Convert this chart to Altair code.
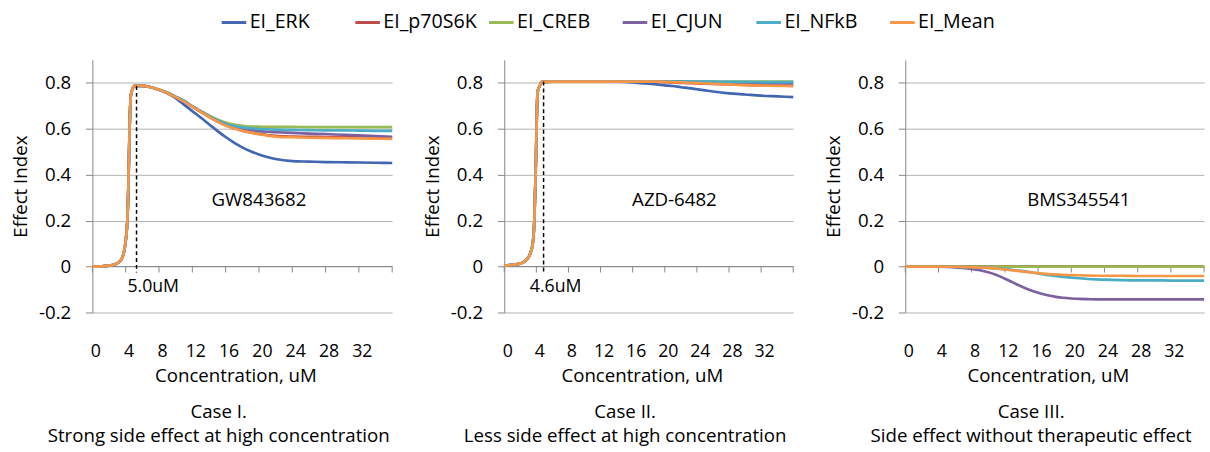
import altair as alt
import pandas as pd

FONT = "Open Sans"
SERIES = ["EI_ERK", "EI_p70S6K", "EI_CREB", "EI_CJUN", "EI_NFkB", "EI_Mean"]
COLORS = ["#4267B2", "#BE4B48", "#98B954", "#7D60A0", "#4BACC6", "#F79646"]
X_LABELS = [0, 4, 8, 12, 16, 20, 24, 28, 32]
X_TICK_MARKS = [0, 4, 8, 12, 16, 20, 24, 28, 32, 36]
Y_TICKS = [-0.2, 0, 0.2, 0.4, 0.6, 0.8]

# ---------------- Case I : GW843682 ----------------
P1_X = [0, 1, 2, 2.8, 3.4, 3.8, 4.2, 4.6, 4.8, 5.1,
        6, 7, 8, 9, 10, 11, 12, 13, 14, 15, 16, 17, 18, 19, 20, 21, 22,
        24, 26, 28, 30, 32, 34, 36]
P1_RISE = [0, 0.001, 0.004, 0.011, 0.026, 0.065, 0.20, 0.74, 0.772, 0.787,
           0.787, 0.781, 0.770]
P1_MEAN = P1_RISE + [0.756, 0.738, 0.718, 0.696, 0.674, 0.652, 0.631, 0.614, 0.601,
                     0.591, 0.583, 0.576, 0.570, 0.566,
                     0.563, 0.561, 0.560, 0.559, 0.558, 0.557, 0.556]
P1_ERK = P1_RISE + [0.754, 0.733, 0.705, 0.677, 0.649, 0.620, 0.591, 0.564, 0.540,
                    0.519, 0.502, 0.488, 0.477, 0.468,
                    0.459, 0.457, 0.455, 0.454, 0.453, 0.452, 0.451]
P1_EARLY = P1_RISE + [0.757, 0.739, 0.721]
P1_CREB = P1_EARLY + [0.698, 0.678, 0.658, 0.640, 0.627, 0.618, 0.613, 0.610, 0.609,
                      0.608, 0.608, 0.608, 0.607, 0.607, 0.607, 0.607, 0.607, 0.607]
P1_NFKB = P1_EARLY + [0.697, 0.676, 0.655, 0.636, 0.622, 0.612, 0.606, 0.602, 0.599,
                      0.597, 0.596, 0.595, 0.594, 0.593, 0.593, 0.592, 0.591, 0.591]
P1_CJUN = P1_EARLY + [0.697, 0.676, 0.655, 0.636, 0.620, 0.609, 0.601, 0.595, 0.590,
                      0.587, 0.585, 0.582, 0.579, 0.577, 0.574, 0.571, 0.568, 0.565]
P1_P70 = P1_EARLY + [0.696, 0.674, 0.652, 0.632, 0.615, 0.602, 0.592, 0.584, 0.578,
                     0.573, 0.569, 0.566, 0.565, 0.564, 0.563, 0.563, 0.562, 0.562]

# ---------------- Case II : AZD-6482 ----------------
P2_X = [0, 0.7, 1.5, 2.1, 2.7, 3.2, 3.55, 3.75, 3.95, 4.15, 4.4, 4.7,
        6, 8, 10, 12, 14, 15, 16, 17, 18, 19, 20, 21, 22, 23, 24, 25, 26,
        28, 30, 32, 34, 36]
P2_RISE = [0.003, 0.007, 0.010, 0.014, 0.027, 0.053, 0.10, 0.20, 0.47, 0.76, 0.785, 0.804]
P2_MEAN = P2_RISE + [0.805, 0.805, 0.805, 0.805, 0.805, 0.805, 0.805, 0.805, 0.805, 0.805,
                     0.804, 0.803, 0.802, 0.800, 0.799, 0.797, 0.796,
                     0.793, 0.790, 0.788, 0.787, 0.786]
P2_ERK = P2_RISE + [0.805, 0.805, 0.805, 0.805, 0.805, 0.804, 0.802, 0.799, 0.796, 0.793,
                    0.789, 0.786, 0.781, 0.777, 0.772, 0.767, 0.762,
                    0.754, 0.749, 0.744, 0.741, 0.738]
P2_P70 = P2_RISE + [0.805, 0.805, 0.805, 0.805, 0.805, 0.805, 0.805, 0.805, 0.805, 0.805,
                    0.803, 0.802, 0.800, 0.799, 0.797, 0.796, 0.795,
                    0.793, 0.791, 0.789, 0.788, 0.787]
P2_CREB = P2_RISE + [0.805, 0.805, 0.805, 0.805, 0.805, 0.805, 0.805, 0.805, 0.805, 0.805,
                     0.805, 0.805, 0.805, 0.805, 0.805, 0.805, 0.805,
                     0.806, 0.806, 0.806, 0.806, 0.806]
P2_CJUN = P2_RISE + [0.805, 0.805, 0.805, 0.805, 0.805, 0.805, 0.805, 0.805, 0.805, 0.805,
                     0.805, 0.805, 0.805, 0.804, 0.803, 0.803, 0.802,
                     0.800, 0.799, 0.798, 0.797, 0.796]
P2_NFKB = P2_RISE + [0.805, 0.805, 0.805, 0.805, 0.805, 0.805, 0.805, 0.805, 0.805, 0.805,
                     0.805, 0.805, 0.805, 0.805, 0.805, 0.805, 0.805,
                     0.804, 0.804, 0.803, 0.803, 0.803]

# ---------------- Case III : BMS345541 ----------------
P3_X = [0, 2, 4, 6, 8, 9, 10, 11, 12, 13, 14, 15, 16, 17, 18, 19, 20, 21, 22, 23, 24,
        26, 28, 30, 32, 34, 36]
P3_ZERO = [0] * 27
P3_CJUN = [0, 0, -0.001, -0.004, -0.010, -0.016, -0.025, -0.037, -0.053, -0.070, -0.087,
           -0.102, -0.114, -0.124, -0.131, -0.136, -0.139, -0.141, -0.142, -0.143, -0.143,
           -0.143, -0.143, -0.143, -0.143, -0.143, -0.143]
P3_NFKB = [0, 0, 0, -0.001, -0.003, -0.004, -0.006, -0.008, -0.011, -0.015, -0.019,
           -0.024, -0.030, -0.036, -0.041, -0.045, -0.048, -0.051, -0.054, -0.056, -0.057,
           -0.059, -0.060, -0.060, -0.061, -0.061, -0.061]
P3_MEAN = [0, 0, 0, -0.001, -0.003, -0.004, -0.006, -0.009, -0.013, -0.017, -0.021,
           -0.025, -0.029, -0.032, -0.034, -0.036, -0.037, -0.038, -0.039, -0.040, -0.040,
           -0.040, -0.041, -0.041, -0.041, -0.041, -0.041]

PANELS = [
    dict(x=P1_X, ys=[P1_ERK, P1_P70, P1_CREB, P1_CJUN, P1_NFKB, P1_MEAN],
         name="GW843682", name_x=20.0, width=305,
         dash_x=5.3, dash_top=0.786, um="5.0uM", um_x=7.3,
         title=["Case I.", "Strong side effect at high concentration"]),
    dict(x=P2_X, ys=[P2_ERK, P2_P70, P2_CREB, P2_CJUN, P2_NFKB, P2_MEAN],
         name="AZD-6482", name_x=21.2, width=294,
         dash_x=4.9, dash_top=0.805, um="4.6uM", um_x=6.4,
         title=["Case II.", "Less side effect at high concentration"]),
    dict(x=P3_X, ys=[P3_ZERO, P3_ZERO, P3_ZERO, P3_CJUN, P3_NFKB, P3_MEAN],
         name="BMS345541", name_x=20.9, width=304,
         dash_x=None, dash_top=None, um=None, um_x=None,
         title=["Case III.", "Side effect without therapeutic effect"]),
]

HEIGHT = 257
GRID = "#B3B3B3"
AXIS = "#868686"

color_scale = alt.Scale(domain=SERIES, range=COLORS)
legend = alt.Legend(
    title=None, orient="none", legendX=130, legendY=-52, direction="horizontal",
    columns=6, symbolType="stroke", symbolSize=625, symbolStrokeWidth=3,
    labelFont=FONT, labelFontSize=20, labelColor="#000000", labelOffset=2,
    columnPadding=5, gridAlign="all",
)

ylabel_expr = ("datum.value < 0 ? '-' + format(-datum.value, '.1f') : "
               "(datum.value == 0 ? '0' : format(datum.value, '.1f'))")


def make_panel(p, show_legend):
    w = p["width"]
    xs = alt.Scale(domain=[0, 36], nice=False, zero=False)
    ys = alt.Scale(domain=[-0.2, 0.9], nice=False, zero=False)
    x_axis = alt.Axis(values=X_LABELS, title="Concentration, uM", grid=False, domain=False,
                      ticks=False, labelPadding=31, labelOffset=3, labelOverlap=False,
                      labelFlush=False, labelFont=FONT,
                      labelFontSize=18, labelColor="#000000", titleFont=FONT,
                      titleFontSize=19, titleFontWeight="normal", titleColor="#000000",
                      titlePadding=6, titleX=w / 2 - 7)
    y_axis = alt.Axis(values=Y_TICKS, title="Effect Index", grid=True, gridColor=GRID,
                      domain=True, domainColor=AXIS, ticks=True, tickColor=AXIS,
                      tickSize=7, labelPadding=15, labelFont=FONT, labelFontSize=19,
                      labelColor="#000000", labelExpr=ylabel_expr, labelOverlap=False,
                      titleFont=FONT,
                      titleFontSize=19, titleFontWeight="normal", titleColor="#000000",
                      titlePadding=8)

    def X(field="x:Q"):
        return alt.X(field, scale=xs, axis=x_axis)

    def Y(field="y:Q"):
        return alt.Y(field, scale=ys, axis=y_axis)

    zero_line = alt.Chart(pd.DataFrame({"y": [0]})).mark_rule(color=AXIS, strokeWidth=1).encode(
        y=Y())
    ticks = alt.Chart(pd.DataFrame({"x": X_TICK_MARKS})).mark_rule(color=AXIS, strokeWidth=1).encode(
        x=X(), y=alt.datum(0), y2=alt.datum(-0.026))

    layers = [zero_line, ticks]
    for s, yv in zip(SERIES, p["ys"]):
        df = pd.DataFrame({"x": p["x"], "y": yv, "series": s})
        layers.append(
            alt.Chart(df).mark_line(strokeWidth=2.7, interpolate="monotone").encode(
                x=X(), y=Y(),
                color=alt.Color("series:N", scale=color_scale,
                                legend=legend if show_legend else None),
            )
        )
    if p["dash_x"] is not None:
        ddf = pd.DataFrame({"x": [p["dash_x"]], "y": [p["dash_top"]], "y2": [-0.026]})
        layers.append(alt.Chart(ddf).mark_rule(color="#000000", strokeDash=[4, 3],
                                               strokeWidth=1.5).encode(
            x=X(), y=Y(), y2="y2:Q"))
        layers.append(alt.Chart(pd.DataFrame({"x": [p["um_x"]], "y": [-0.09], "t": [p["um"]]}))
                      .mark_text(font=FONT, fontSize=18, color="#000000", baseline="middle")
                      .encode(x=X(), y=Y(), text="t:N"))
    layers.append(alt.Chart(pd.DataFrame({"x": [p["name_x"]], "y": [0.29], "t": [p["name"]]}))
                  .mark_text(font=FONT, fontSize=19, color="#000000", baseline="middle")
                  .encode(x=X(), y=Y(), text="t:N"))

    return alt.layer(*layers).properties(
        width=w, height=HEIGHT,
        title=alt.TitleParams(text=p["title"], orient="bottom", font=FONT, fontSize=19,
                              fontWeight="normal", color="#000000", lineHeight=25,
                              dx=-24, offset=18, anchor="middle", frame="group"),
    )


panels = [make_panel(p, i == 0) for i, p in enumerate(PANELS)]
chart = alt.hconcat(*panels, spacing=26).properties(
    padding={"left": 12, "top": 5, "right": 0, "bottom": 0},
    background="white",
).configure_view(stroke=None)

chart.save("out.html", embed_options={"renderer": "svg", "actions": False})
